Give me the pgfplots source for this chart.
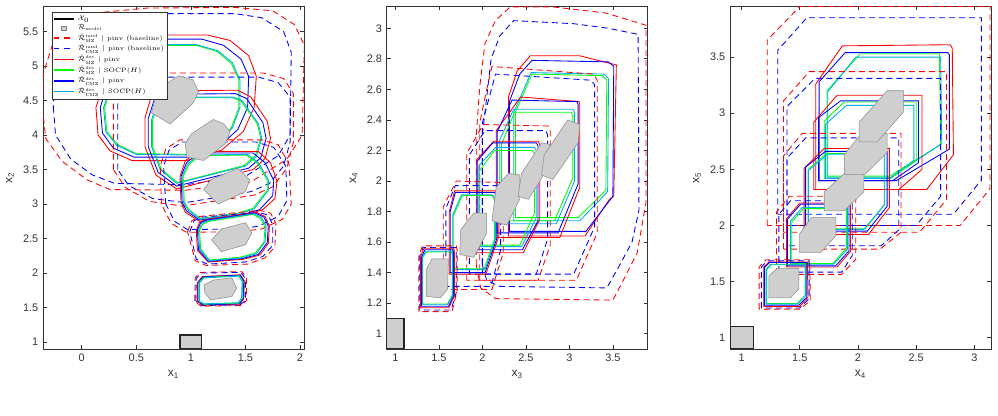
\documentclass[border=0pt]{standalone}
\usepackage{fontspec}
\setsansfont{Liberation Sans}
\usepackage{amsmath}
\usepackage{pgfplots}
\pgfplotsset{compat=1.18}
\pgfplotsset{
 base/.style={scale only axis, width=195.75pt, height=257.25pt, anchor=south west,
   axis line style={black!80, line width=0.5pt}, tick style={black!80, line width=0.5pt}, major tick length=3pt,
   tick label style={font=\sffamily\fontsize{8.2}{9}\selectfont, text=black!80},
   label style={font=\sffamily\fontsize{9}{10}\selectfont, text=black!80},
   /pgf/number format/assume math mode=true, clip=true},
 RD/.style={forget plot, mark=none, red, line width=0.65pt, dash pattern=on 4.5pt off 3pt},
 BD/.style={forget plot, mark=none, blue, line width=0.65pt, dash pattern=on 4.5pt off 3pt},
 RS/.style={forget plot, mark=none, red, line width=0.65pt},
 GS/.style={forget plot, mark=none, green, line width=0.65pt},
 BS/.style={forget plot, mark=none, blue, line width=0.65pt},
 CS/.style={forget plot, mark=none, cyan, line width=0.65pt},
 GR/.style={forget plot, mark=none, fill=gray!38, draw=gray!90, line width=0.4pt},
 XZ/.style={forget plot, mark=none, fill=gray!38, draw=black!85, line width=1.1pt},
 LL/.style={legend image code/.code={\draw[#1, line width=1.2pt] (0cm,0cm) -- (0.54cm,0cm);}},
}
\begin{document}
\begin{tikzpicture}
\path[use as bounding box] (0,0) rectangle (748.5pt,312pt);
%================ Panel 1
\begin{axis}[base, at={(32.25pt,50.25pt)}, xmin=-0.355, xmax=2.037, ymin=0.9, ymax=5.87,
  xtick={0,0.5,1,1.5,2}, ytick={1,1.5,2,2.5,3,3.5,4,4.5,5,5.5},
  xlabel={x\textsubscript{1}}, ylabel={x\textsubscript{2}},
  legend style={at={(0.033,0.982)}, anchor=north west, draw=black!80, fill=white,
    font=\rmfamily\fontsize{4.7}{5.5}\selectfont, inner sep=0.6pt, row sep=-2.2pt, cells={anchor=west}}]
\addlegendimage{legend image code/.code={\draw[black, line width=1.3pt] (0cm,0cm) -- (0.54cm,0cm);}}
\addlegendentry{$\mathcal{X}_0$}
\addlegendimage{legend image code/.code={\draw[fill=gray!38, draw=gray, line width=0.5pt] (0.21cm,-1.7pt) rectangle (0.33cm,1.7pt);}}
\addlegendentry{$\mathcal{R}_{\mathrm{model}}$}
\addlegendimage{legend image code/.code={\draw[red, line width=1.2pt, dash pattern=on 4pt off 4pt] (0cm,0cm) -- (0.54cm,0cm);}}
\addlegendentry{$\hat{\mathcal{R}}^{\mathrm{rand}}_{\mathrm{MZ}}$ $|$ pinv (baseline)}
\addlegendimage{legend image code/.code={\draw[blue, line width=1.2pt, dash pattern=on 4pt off 4pt] (0cm,0cm) -- (0.54cm,0cm);}}
\addlegendentry{$\hat{\mathcal{R}}^{\mathrm{rand}}_{\mathrm{CMZ}}$ $|$ pinv (baseline)}
\addlegendimage{legend image code/.code={\draw[red, line width=1.2pt] (0cm,0cm) -- (0.54cm,0cm);}}
\addlegendentry{$\hat{\mathcal{R}}^{\mathrm{des}}_{\mathrm{MZ}}$ $|$ pinv}
\addlegendimage{legend image code/.code={\draw[green, line width=1.2pt] (0cm,0cm) -- (0.54cm,0cm);}}
\addlegendentry{$\hat{\mathcal{R}}^{\mathrm{des}}_{\mathrm{MZ}}$ $|$ SOCP($H$)}
\addlegendimage{legend image code/.code={\draw[blue, line width=1.2pt] (0cm,0cm) -- (0.54cm,0cm);}}
\addlegendentry{$\hat{\mathcal{R}}^{\mathrm{des}}_{\mathrm{CMZ}}$ $|$ pinv}
\addlegendimage{legend image code/.code={\draw[cyan, line width=1.2pt] (0cm,0cm) -- (0.54cm,0cm);}}
\addlegendentry{$\hat{\mathcal{R}}^{\mathrm{des}}_{\mathrm{CMZ}}$ $|$ SOCP($H$)}
% step 5
\addplot[RD] coordinates {(-0.36,4.4)(-0.33,3.95)(-0.18,3.62)(0.05,3.35)(0.26,3.21)(0.95,3.20)(1.55,3.32)(1.88,3.65)(2.02,4.0)(2.04,5.3)(1.95,5.6)(1.75,5.80)(1.4,5.85)(0.6,5.84)(0.0,5.75)(-0.25,5.4)(-0.35,4.9)} --cycle;
\addplot[BD] coordinates {(-0.26,4.4)(-0.24,4.0)(-0.1,3.65)(0.1,3.42)(0.3,3.30)(0.95,3.28)(1.5,3.4)(1.80,3.70)(1.91,4.0)(1.92,5.2)(1.85,5.5)(1.65,5.7)(1.4,5.76)(0.7,5.76)(0.1,5.65)(-0.15,5.3)(-0.25,4.9)} --cycle;
\addplot[RS] coordinates {(0.13,4.4)(0.15,4.0)(0.26,3.77)(0.46,3.63)(0.96,3.63)(1.28,3.78)(1.48,4.05)(1.58,4.4)(1.60,4.85)(1.53,5.15)(1.36,5.37)(1.15,5.45)(0.75,5.45)(0.45,5.28)(0.24,4.93)} --cycle;
\addplot[BS] coordinates {(0.17,4.4)(0.19,4.03)(0.29,3.81)(0.48,3.68)(0.97,3.68)(1.25,3.82)(1.43,4.08)(1.52,4.4)(1.53,4.85)(1.46,5.1)(1.3,5.3)(1.1,5.39)(0.75,5.39)(0.48,5.22)(0.27,4.9)} --cycle;
\addplot[GS] coordinates {(0.21,4.4)(0.23,4.05)(0.33,3.86)(0.5,3.73)(0.98,3.72)(1.21,3.86)(1.37,4.1)(1.44,4.4)(1.44,4.8)(1.37,5.04)(1.24,5.21)(1.05,5.30)(0.75,5.30)(0.51,5.14)(0.31,4.85)} --cycle;
\addplot[CS] coordinates {(0.20,4.4)(0.22,4.05)(0.32,3.85)(0.5,3.72)(0.98,3.71)(1.22,3.85)(1.38,4.1)(1.45,4.4)(1.45,4.8)(1.38,5.05)(1.25,5.22)(1.05,5.31)(0.75,5.31)(0.5,5.15)(0.3,4.85)} --cycle;
% step 4
\addplot[RD] coordinates {(0.29,3.50)(0.29,4.50)(0.36,4.75)(0.50,4.90)(1.66,4.90)(1.85,4.82)(1.94,4.60)(1.94,3.90)(1.88,3.52)(1.75,3.25)(1.58,3.13)(0.92,2.97)(0.62,3.04)(0.40,3.24)} --cycle;
\addplot[BD] coordinates {(0.33,3.50)(0.33,4.45)(0.40,4.70)(0.55,4.84)(1.62,4.84)(1.80,4.76)(1.91,4.55)(1.91,3.90)(1.85,3.55)(1.72,3.30)(1.55,3.18)(0.95,3.02)(0.65,3.08)(0.43,3.27)} --cycle;
\addplot[RS] coordinates {(0.58,3.83)(0.58,4.25)(0.63,4.52)(0.72,4.64)(1.43,4.65)(1.55,4.55)(1.70,4.20)(1.73,3.95)(1.68,3.66)(1.57,3.50)(0.87,3.22)(0.68,3.42)} --cycle;
\addplot[BS] coordinates {(0.61,3.83)(0.61,4.24)(0.66,4.49)(0.74,4.59)(1.41,4.60)(1.51,4.53)(1.66,4.18)(1.69,3.95)(1.64,3.67)(1.53,3.52)(0.87,3.26)(0.70,3.46)} --cycle;
\addplot[GS] coordinates {(0.65,3.83)(0.65,4.22)(0.70,4.45)(0.76,4.54)(1.38,4.54)(1.46,4.49)(1.61,4.16)(1.64,3.95)(1.59,3.70)(1.49,3.56)(0.88,3.31)(0.73,3.50)} --cycle;
\addplot[CS] coordinates {(0.64,3.83)(0.64,4.22)(0.69,4.46)(0.75,4.55)(1.39,4.55)(1.47,4.50)(1.62,4.16)(1.65,3.95)(1.60,3.69)(1.50,3.55)(0.87,3.30)(0.72,3.50)} --cycle;
% step 3
\addplot[RD] coordinates {(0.73,3.0)(0.72,3.55)(0.77,3.80)(0.90,3.93)(1.65,3.93)(1.80,3.86)(1.90,3.58)(1.92,3.00)(1.84,2.78)(1.65,2.64)(1.45,2.60)(0.96,2.59)(0.82,2.72)} --cycle;
\addplot[BD] coordinates {(0.77,3.0)(0.75,3.55)(0.80,3.78)(0.92,3.90)(1.60,3.90)(1.76,3.82)(1.87,3.55)(1.88,3.05)(1.80,2.82)(1.62,2.68)(1.45,2.64)(0.97,2.63)(0.85,2.75)} --cycle;
\addplot[RS] coordinates {(0.91,3.03)(0.90,3.40)(0.95,3.63)(1.07,3.76)(1.62,3.76)(1.73,3.60)(1.79,3.33)(1.77,3.08)(1.66,2.92)(1.50,2.84)(1.08,2.75)(0.95,2.88)} --cycle;
\addplot[BS] coordinates {(0.92,3.03)(0.91,3.40)(0.96,3.60)(1.07,3.74)(1.57,3.74)(1.68,3.60)(1.76,3.34)(1.75,3.12)(1.63,2.92)(1.48,2.85)(1.08,2.77)(0.96,2.90)} --cycle;
\addplot[GS] coordinates {(0.94,3.04)(0.93,3.40)(0.98,3.57)(1.08,3.70)(1.51,3.71)(1.61,3.59)(1.70,3.35)(1.70,3.20)(1.57,2.94)(1.44,2.87)(1.09,2.79)(0.98,2.92)} --cycle;
\addplot[CS] coordinates {(0.93,3.04)(0.92,3.40)(0.97,3.58)(1.07,3.71)(1.52,3.72)(1.62,3.60)(1.71,3.35)(1.71,3.20)(1.58,2.93)(1.45,2.86)(1.09,2.78)(0.97,2.92)} --cycle;
% step 2
\addplot[RD] coordinates {(0.97,2.60)(1.01,2.76)(1.08,2.82)(1.63,2.91)(1.73,2.87)(1.78,2.72)(1.77,2.38)(1.68,2.22)(1.52,2.13)(1.14,2.11)(1.04,2.18)} --cycle;
\addplot[BD] coordinates {(0.99,2.60)(1.03,2.76)(1.10,2.81)(1.62,2.88)(1.71,2.84)(1.75,2.70)(1.75,2.40)(1.66,2.24)(1.50,2.16)(1.15,2.13)(1.05,2.20)} --cycle;
\addplot[RS] coordinates {(1.05,2.62)(1.08,2.74)(1.15,2.78)(1.60,2.88)(1.68,2.82)(1.72,2.68)(1.71,2.43)(1.63,2.26)(1.48,2.20)(1.16,2.16)(1.06,2.33)} --cycle;
\addplot[BS] coordinates {(1.06,2.62)(1.09,2.73)(1.15,2.77)(1.59,2.87)(1.67,2.81)(1.71,2.68)(1.70,2.44)(1.62,2.27)(1.47,2.21)(1.16,2.17)(1.07,2.34)} --cycle;
\addplot[GS] coordinates {(1.08,2.62)(1.11,2.71)(1.17,2.75)(1.57,2.85)(1.64,2.79)(1.68,2.67)(1.67,2.45)(1.59,2.29)(1.45,2.23)(1.17,2.19)(1.09,2.35)} --cycle;
\addplot[CS] coordinates {(1.07,2.62)(1.10,2.72)(1.16,2.76)(1.58,2.86)(1.65,2.80)(1.69,2.68)(1.68,2.45)(1.60,2.28)(1.46,2.22)(1.17,2.18)(1.08,2.35)} --cycle;
% step 1
\addplot[RD] coordinates {(1.035,1.60)(1.04,1.93)(1.08,2.01)(1.47,2.02)(1.51,1.93)(1.51,1.60)(1.46,1.53)(1.09,1.52)} --cycle;
\addplot[BD] coordinates {(1.045,1.60)(1.05,1.92)(1.09,2.00)(1.46,2.01)(1.50,1.92)(1.50,1.60)(1.45,1.54)(1.10,1.53)} --cycle;
\addplot[RS] coordinates {(1.06,1.59)(1.06,1.86)(1.105,1.95)(1.455,1.975)(1.49,1.89)(1.485,1.63)(1.45,1.55)(1.11,1.535)} --cycle;
\addplot[BS] coordinates {(1.065,1.59)(1.065,1.86)(1.11,1.945)(1.45,1.97)(1.485,1.885)(1.48,1.635)(1.445,1.555)(1.115,1.54)} --cycle;
\addplot[GS] coordinates {(1.075,1.59)(1.075,1.86)(1.115,1.935)(1.445,1.96)(1.475,1.88)(1.47,1.64)(1.44,1.565)(1.12,1.55)} --cycle;
\addplot[CS] coordinates {(1.08,1.59)(1.08,1.86)(1.12,1.93)(1.44,1.955)(1.47,1.88)(1.465,1.64)(1.435,1.57)(1.12,1.555)} --cycle;
% model sets
\addplot[GR] coordinates {(1.12,1.83)(1.21,1.90)(1.376,1.93)(1.42,1.78)(1.376,1.66)(1.18,1.61)(1.13,1.71)} --cycle;
\addplot[GR] coordinates {(1.19,2.48)(1.28,2.64)(1.50,2.73)(1.56,2.58)(1.50,2.41)(1.28,2.31)} --cycle;
\addplot[GR] coordinates {(1.12,3.21)(1.18,3.35)(1.43,3.52)(1.54,3.35)(1.50,3.18)(1.25,3.00)} --cycle;
\addplot[GR] coordinates {(0.948,3.874)(1.006,4.019)(1.207,4.226)(1.299,4.164)(1.36,4.043)(1.315,3.874)(1.116,3.632)(0.963,3.681)} --cycle;
\addplot[GR] coordinates {(0.64,4.32)(0.69,4.66)(0.89,4.86)(1.02,4.80)(1.07,4.63)(1.02,4.46)(0.81,4.16)} --cycle;
\addplot[XZ] coordinates {(0.9,0.9)(0.9,1.1)(1.1,1.1)(1.1,0.9)} --cycle;
\end{axis}
%================ Panel 2
\begin{axis}[base, at={(290pt,50.25pt)}, xmin=0.9, xmax=3.9, ymin=0.9, ymax=3.146,
  xtick={1,1.5,2,2.5,3,3.5}, ytick={1,1.2,1.4,1.6,1.8,2,2.2,2.4,2.6,2.8,3},
  xlabel={x\textsubscript{3}}, ylabel={x\textsubscript{4}}]
% step 5
\addplot[RD] coordinates {(1.93,1.45)(1.93,2.3)(1.97,2.62)(2.03,2.90)(2.15,3.05)(2.32,3.14)(2.81,3.14)(3.42,3.10)(3.88,3.02)(3.88,1.86)(3.78,1.53)(3.62,1.35)(3.5,1.22)(2.15,1.23)(1.98,1.30)} --cycle;
\addplot[BD] coordinates {(2.0,1.45)(2.0,2.3)(2.05,2.55)(2.1,2.8)(2.2,2.95)(2.36,3.05)(3.05,3.03)(3.45,3.0)(3.79,2.96)(3.80,1.81)(3.72,1.6)(3.55,1.42)(3.43,1.30)(2.2,1.31)(2.05,1.35)} --cycle;
\addplot[RS] coordinates {(2.30,1.64)(2.30,2.55)(2.40,2.72)(2.55,2.82)(3.12,2.82)(3.54,2.76)(3.51,1.90)(3.46,1.88)(3.18,1.64)} --cycle;
\addplot[BS] coordinates {(2.31,1.67)(2.31,2.52)(2.43,2.70)(2.57,2.79)(3.45,2.78)(3.51,2.75)(3.50,1.90)(3.19,1.67)} --cycle;
\addplot[GS] coordinates {(2.38,1.76)(2.38,2.45)(2.57,2.70)(3.38,2.69)(3.43,2.66)(3.42,1.94)(3.10,1.76)} --cycle;
\addplot[CS] coordinates {(2.36,1.74)(2.36,2.45)(2.56,2.71)(3.40,2.70)(3.45,2.67)(3.44,1.93)(3.12,1.74)} --cycle;
% step 4
\addplot[RD] coordinates {(1.97,1.35)(1.97,2.38)(2.05,2.60)(2.11,2.75)(3.28,2.70)(3.32,2.66)(3.32,1.66)(3.08,1.35)} --cycle;
\addplot[BD] coordinates {(2.00,1.39)(2.00,2.38)(2.08,2.55)(2.15,2.70)(3.25,2.66)(3.29,2.63)(3.29,1.70)(3.05,1.39)} --cycle;
\addplot[RS] coordinates {(2.16,1.63)(2.16,2.33)(2.44,2.55)(3.11,2.52)(3.12,2.50)(3.12,1.96)(2.89,1.63)} --cycle;
\addplot[BS] coordinates {(2.17,1.66)(2.17,2.32)(2.34,2.53)(3.09,2.52)(3.10,2.50)(3.10,1.98)(2.87,1.66)} --cycle;
\addplot[GS] coordinates {(2.22,1.74)(2.22,2.24)(2.37,2.45)(3.02,2.45)(3.04,2.43)(3.04,2.02)(2.83,1.74)} --cycle;
\addplot[CS] coordinates {(2.20,1.72)(2.20,2.27)(2.36,2.47)(3.04,2.47)(3.06,2.45)(3.06,2.00)(2.85,1.72)} --cycle;
% step 3
\addplot[RD] coordinates {(1.82,1.35)(1.82,2.18)(2.01,2.37)(2.76,2.36)(2.78,2.33)(2.78,1.58)(2.64,1.35)} --cycle;
\addplot[BD] coordinates {(1.85,1.39)(1.85,2.17)(2.03,2.33)(2.73,2.33)(2.75,2.30)(2.75,1.62)(2.62,1.39)} --cycle;
\addplot[RS] coordinates {(1.935,1.53)(1.935,2.14)(2.13,2.26)(2.64,2.26)(2.66,2.24)(2.66,1.75)(2.47,1.53)} --cycle;
\addplot[BS] coordinates {(1.94,1.55)(1.94,2.13)(2.12,2.25)(2.62,2.25)(2.64,2.23)(2.64,1.74)(2.46,1.55)} --cycle;
\addplot[GS] coordinates {(1.97,1.58)(1.97,2.07)(2.14,2.20)(2.57,2.20)(2.60,2.18)(2.60,1.79)(2.43,1.58)} --cycle;
\addplot[CS] coordinates {(1.96,1.57)(1.96,2.10)(2.15,2.22)(2.60,2.22)(2.62,2.20)(2.62,1.76)(2.45,1.57)} --cycle;
% step 2
\addplot[RD] coordinates {(1.55,1.29)(1.55,1.83)(1.70,2.00)(2.21,1.99)(2.24,1.96)(2.24,1.53)(2.11,1.29)} --cycle;
\addplot[BD] coordinates {(1.58,1.31)(1.58,1.82)(1.69,1.97)(2.19,1.97)(2.21,1.94)(2.21,1.55)(2.10,1.31)} --cycle;
\addplot[RS] coordinates {(1.62,1.39)(1.62,1.80)(1.68,1.935)(2.15,1.935)(2.19,1.91)(2.19,1.64)(2.04,1.39)} --cycle;
\addplot[BS] coordinates {(1.63,1.40)(1.63,1.80)(1.69,1.925)(2.14,1.925)(2.17,1.90)(2.17,1.63)(2.03,1.40)} --cycle;
\addplot[GS] coordinates {(1.665,1.425)(1.665,1.77)(1.77,1.905)(2.11,1.905)(2.14,1.875)(2.14,1.62)(2.02,1.425)} --cycle;
\addplot[CS] coordinates {(1.66,1.42)(1.66,1.78)(1.76,1.91)(2.12,1.91)(2.15,1.88)(2.15,1.62)(2.03,1.42)} --cycle;
% step 1
\addplot[RD] coordinates {(1.27,1.145)(1.27,1.51)(1.31,1.575)(1.70,1.575)(1.71,1.55)(1.71,1.28)(1.65,1.145)} --cycle;
\addplot[BD] coordinates {(1.28,1.155)(1.28,1.51)(1.32,1.565)(1.69,1.565)(1.70,1.54)(1.70,1.27)(1.64,1.155)} --cycle;
\addplot[RS] coordinates {(1.29,1.17)(1.29,1.505)(1.33,1.56)(1.67,1.56)(1.68,1.535)(1.68,1.25)(1.615,1.17)} --cycle;
\addplot[BS] coordinates {(1.30,1.18)(1.30,1.50)(1.34,1.55)(1.66,1.55)(1.67,1.53)(1.67,1.25)(1.61,1.18)} --cycle;
\addplot[GS] coordinates {(1.315,1.195)(1.315,1.50)(1.355,1.535)(1.645,1.535)(1.655,1.515)(1.655,1.255)(1.60,1.195)} --cycle;
\addplot[CS] coordinates {(1.31,1.19)(1.31,1.50)(1.35,1.54)(1.65,1.54)(1.66,1.52)(1.66,1.25)(1.60,1.19)} --cycle;
% model sets
\addplot[GR] coordinates {(1.355,1.245)(1.355,1.42)(1.42,1.49)(1.61,1.49)(1.60,1.29)(1.515,1.235)} --cycle;
\addplot[GR] coordinates {(1.74,1.52)(1.75,1.68)(1.90,1.79)(2.05,1.79)(2.05,1.66)(1.90,1.50)} --cycle;
\addplot[GR] coordinates {(2.11,1.74)(2.16,1.96)(2.30,2.05)(2.43,2.04)(2.43,1.88)(2.28,1.71)} --cycle;
\addplot[GR] coordinates {(2.41,1.90)(2.45,2.05)(2.68,2.25)(2.77,2.24)(2.77,2.10)(2.53,1.88)} --cycle;
\addplot[GR] coordinates {(2.68,2.04)(2.71,2.17)(2.98,2.40)(3.12,2.37)(3.10,2.25)(2.81,2.01)} --cycle;
\addplot[XZ] coordinates {(0.9,0.9)(0.9,1.1)(1.1,1.1)(1.1,0.9)} --cycle;
\end{axis}
%================ Panel 3
\begin{axis}[base, at={(547.5pt,50.25pt)}, xmin=0.9, xmax=3.143, ymin=0.9, ymax=3.955,
  xtick={1,1.5,2,2.5,3}, ytick={1,1.5,2,2.5,3,3.5},
  xlabel={x\textsubscript{4}}, ylabel={x\textsubscript{5}}]
% step 5
\addplot[RD] coordinates {(1.22,2.0)(1.22,3.65)(1.50,3.95)(3.134,3.95)(3.134,2.33)(3.106,2.29)(2.877,2.0)} --cycle;
\addplot[BD] coordinates {(1.31,2.10)(1.31,3.56)(1.56,3.85)(3.06,3.85)(3.06,2.40)(3.04,2.38)(2.82,2.10)} --cycle;
\addplot[RS] coordinates {(1.637,2.32)(1.637,3.26)(1.865,3.60)(2.79,3.61)(2.81,3.58)(2.82,2.63)(2.59,2.32)} --cycle;
\addplot[BS] coordinates {(1.666,2.40)(1.666,3.28)(1.89,3.54)(2.77,3.54)(2.785,3.52)(2.785,2.68)(2.33,2.40)} --cycle;
\addplot[GS] coordinates {(1.734,2.44)(1.734,3.20)(2.02,3.53)(2.70,3.53)(2.71,2.72)(2.27,2.44)} --cycle;
\addplot[CS] coordinates {(1.74,2.43)(1.74,3.19)(1.98,3.50)(2.71,3.50)(2.72,2.73)(2.29,2.43)} --cycle;
% step 4
\addplot[RD] coordinates {(1.36,1.94)(1.36,3.11)(1.58,3.37)(2.76,3.37)(2.76,2.23)(2.53,1.94)} --cycle;
\addplot[BD] coordinates {(1.39,2.00)(1.39,3.06)(1.63,3.31)(2.71,3.31)(2.71,2.26)(2.50,2.00)} --cycle;
\addplot[RS] coordinates {(1.62,2.32)(1.62,2.92)(1.82,3.16)(2.55,3.16)(2.55,2.50)(2.35,2.32)} --cycle;
\addplot[BS] coordinates {(1.66,2.40)(1.66,2.96)(1.85,3.11)(2.52,3.11)(2.52,2.56)(2.30,2.40)} --cycle;
\addplot[GS] coordinates {(1.71,2.42)(1.71,2.93)(1.88,3.10)(2.50,3.10)(2.50,2.58)(2.28,2.42)} --cycle;
\addplot[CS] coordinates {(1.72,2.42)(1.72,2.90)(1.90,3.07)(2.48,3.07)(2.48,2.58)(2.27,2.42)} --cycle;
% step 3
\addplot[RD] coordinates {(1.36,1.79)(1.36,2.62)(1.52,2.82)(2.37,2.82)(2.37,1.94)(2.19,1.79)} --cycle;
\addplot[BD] coordinates {(1.39,1.82)(1.39,2.60)(1.55,2.78)(2.35,2.78)(2.35,1.96)(2.20,1.82)} --cycle;
\addplot[RS] coordinates {(1.537,1.92)(1.537,2.51)(1.71,2.686)(2.27,2.686)(2.27,2.16)(2.09,1.92)} --cycle;
\addplot[BS] coordinates {(1.55,1.95)(1.55,2.52)(1.72,2.66)(2.25,2.66)(2.25,2.17)(2.08,1.95)} --cycle;
\addplot[GS] coordinates {(1.57,1.97)(1.57,2.50)(1.73,2.64)(2.23,2.64)(2.23,2.19)(2.06,1.97)} --cycle;
\addplot[CS] coordinates {(1.575,1.965)(1.575,2.49)(1.74,2.635)(2.225,2.635)(2.225,2.18)(2.05,1.965)} --cycle;
% step 2
\addplot[RD] coordinates {(1.30,1.565)(1.30,2.12)(1.41,2.26)(1.98,2.26)(1.98,1.70)(1.86,1.565)} --cycle;
\addplot[BD] coordinates {(1.32,1.585)(1.32,2.10)(1.42,2.22)(1.95,2.22)(1.95,1.73)(1.86,1.585)} --cycle;
\addplot[RS] coordinates {(1.385,1.63)(1.385,2.06)(1.50,2.20)(1.935,2.20)(1.935,1.77)(1.82,1.63)} --cycle;
\addplot[BS] coordinates {(1.394,1.64)(1.394,2.056)(1.508,2.19)(1.923,2.19)(1.923,1.775)(1.808,1.64)} --cycle;
\addplot[GS] coordinates {(1.43,1.66)(1.43,2.03)(1.53,2.15)(1.90,2.15)(1.90,1.80)(1.785,1.66)} --cycle;
\addplot[CS] coordinates {(1.42,1.655)(1.42,2.04)(1.52,2.16)(1.91,2.16)(1.91,1.79)(1.79,1.655)} --cycle;
% step 1
\addplot[RD] coordinates {(1.15,1.255)(1.15,1.63)(1.21,1.695)(1.585,1.695)(1.59,1.33)(1.50,1.255)} --cycle;
\addplot[BD] coordinates {(1.17,1.265)(1.17,1.63)(1.22,1.685)(1.58,1.685)(1.58,1.35)(1.50,1.265)} --cycle;
\addplot[RS] coordinates {(1.19,1.28)(1.19,1.63)(1.235,1.675)(1.565,1.675)(1.57,1.36)(1.50,1.28)} --cycle;
\addplot[BS] coordinates {(1.195,1.29)(1.195,1.625)(1.24,1.67)(1.56,1.67)(1.56,1.36)(1.49,1.29)} --cycle;
\addplot[GS] coordinates {(1.215,1.305)(1.215,1.605)(1.255,1.65)(1.545,1.65)(1.545,1.375)(1.475,1.305)} --cycle;
\addplot[CS] coordinates {(1.21,1.30)(1.21,1.61)(1.25,1.655)(1.55,1.655)(1.55,1.375)(1.48,1.30)} --cycle;
% model sets
\addplot[GR] coordinates {(1.234,1.355)(1.234,1.55)(1.306,1.618)(1.491,1.618)(1.491,1.435)(1.42,1.355)} --cycle;
\addplot[GR] coordinates {(1.494,1.76)(1.494,1.92)(1.60,2.07)(1.81,2.07)(1.81,1.91)(1.68,1.76)} --cycle;
\addplot[GR] coordinates {(1.71,2.13)(1.71,2.30)(1.89,2.47)(2.05,2.47)(2.05,2.30)(1.88,2.13)} --cycle;
\addplot[GR] coordinates {(1.883,2.455)(1.883,2.633)(2.03,2.82)(2.25,2.82)(2.25,2.65)(2.06,2.455)} --cycle;
\addplot[GR] coordinates {(2.01,2.745)(2.01,2.92)(2.25,3.20)(2.39,3.20)(2.39,3.01)(2.165,2.745)} --cycle;
\addplot[XZ] coordinates {(0.9,0.9)(0.9,1.1)(1.1,1.1)(1.1,0.9)} --cycle;
\end{axis}
\end{tikzpicture}
\end{document}
